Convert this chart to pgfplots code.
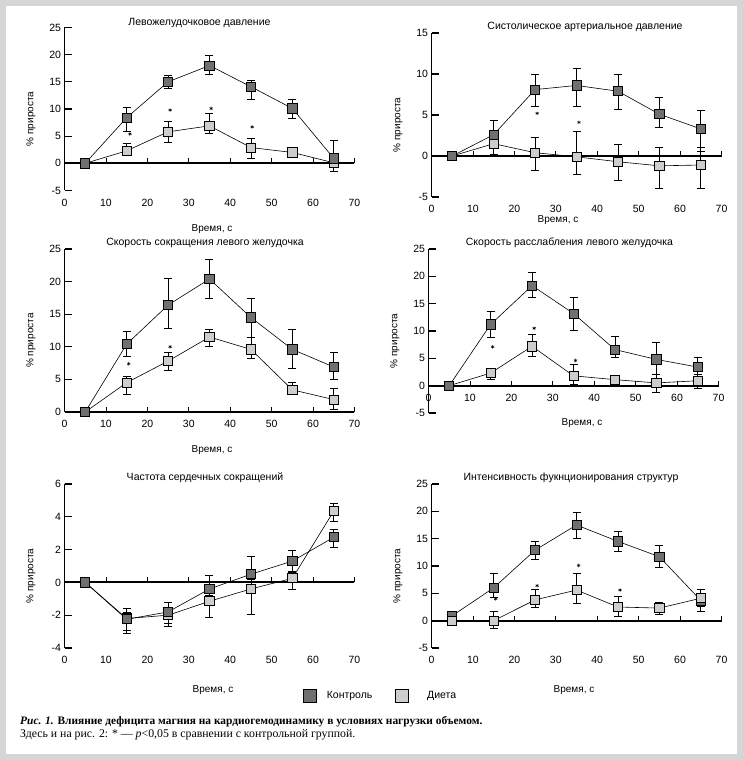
\documentclass[border=0pt]{standalone}
\usepackage{pgfplots}
\pgfplotsset{compat=1.18}
\usepackage{fontspec}
\setmainfont{Liberation Sans}
\newfontfamily\capfont{Liberation Serif}
\definecolor{ctrl}{HTML}{707070}
\definecolor{dietc}{HTML}{CDCDCD}
\definecolor{framegray}{HTML}{D6D6D6}
\newcommand{\pf}{\fontsize{10.5}{12}\selectfont}
\newcommand{\tf}{\fontsize{10.5}{12}\selectfont}
\pgfplotsset{
  panel/.style={
    scale only axis, width=290pt, height=164pt,
    anchor=south west,
    xmin=0, xmax=70, xtick={0,10,20,30,40,50,60,70},
    axis x line=bottom, axis y line=left,
    axis line style={-},
    x axis line style={draw=none},
    y axis line style={line width=1.5pt},
    xtick style={draw=none},
    ytick style={line width=1.2pt, black},
    tick align=inside, major tick length=7pt,
    xticklabel shift=5pt,
    /pgf/number format/assume math mode=true,
    tick label style={font=\pf},
    every axis title/.style={font=\tf, at={(axis description cs:0.5,1)}, anchor=base, yshift=3pt, inner sep=0pt},
    xlabel={Время, с}, ylabel={\% прироста},
    label style={font=\tf},
    every axis y label/.style={at={(axis description cs:0,0.5)}, xshift=-33.5pt, yshift=-10pt, rotate=90, anchor=center},
    every axis x label/.style={at={(axis description cs:0.5,0)}, anchor=center},
    clip=false,
  },
  ser/.style={black, line width=0.6pt, mark=square*, mark size=4.6pt,
    mark options={fill=#1, draw=black, line width=0.8pt},
    error bars/y dir=both, error bars/y explicit,
    error bars/error bar style={line width=0.8pt, black},
    error bars/error mark options={rotate=90, mark size=4pt, line width=0.8pt, black}},
  star/.style={only marks, mark=asterisk, mark size=1.8pt, mark options={line width=0.5pt, black}, forget plot},
}
\newcommand{\zeroline}{%
  \draw[line width=1.8pt] (axis cs:0,0) -- (axis cs:70,0);
  \pgfplotsinvokeforeach{10,20,30,40,50,60,70}{\draw[line width=0.8pt] (axis cs:##1,0) -- ++(0pt,5pt);}
}
\begin{document}
\begin{tikzpicture}
\useasboundingbox (0pt,0pt) rectangle (743pt,760pt);
\fill[framegray] (0pt,0pt) rectangle (743pt,760pt);
\fill[white] (6pt,6pt) rectangle (737pt,754pt);

% Panel 1
\begin{axis}[panel, at={(64.5pt,569.5pt)}, height=163pt, ymin=-5, ymax=25, ytick={-5,0,5,10,15,20,25},
  title={Левожелудочковое давление}, title style={xshift=-10pt, yshift=-1pt},
  xlabel style={yshift=-39pt, xshift=2.5pt}]
\zeroline
\addplot[ser=dietc] coordinates {(5,0) +- (0,0) (15,2.3) += (0,1.3) -= (0,0.8) (25,5.8) += (0,1.9) -= (0,1.9) (35,6.9) += (0,2.3) -= (0,1.4) (45,2.9) += (0,1.7) -= (0,2.0) (55,2.0) += (0,0.5) -= (0,0.8) (65,0.1) += (0,1.6) -= (0,1.6)};
\addplot[ser=ctrl] coordinates {(5,0) +- (0,0) (15,8.4) += (0,1.9) -= (0,2.6) (25,15.0) += (0,1.1) -= (0,1.2) (35,18.0) += (0,1.8) -= (0,1.7) (45,14.1) += (0,1.2) -= (0,2.4) (55,10.1) += (0,1.6) -= (0,1.8) (65,0.9) += (0,3.3) -= (0,0)};
\addplot[star] coordinates {(15.8,5.4) (25.5,9.8) (35.4,10.1) (45.3,6.7)};
\end{axis}

% Panel 2
\begin{axis}[panel, at={(431.5pt,563pt)}, ymin=-5, ymax=15, ytick={-5,0,5,10,15},
  title={Систолическое артериальное давление}, title style={xshift=8.5pt},
  xlabel style={yshift=-23pt, xshift=-18.5pt}]
\zeroline
\addplot[ser=dietc] coordinates {(5,0) +- (0,0) (15,1.5) += (0,0.5) -= (0,1.3) (25,0.4) += (0,1.9) -= (0,2.1) (35,-0.1) += (0,3.1) -= (0,2.1) (45,-0.7) += (0,2.1) -= (0,2.3) (55,-1.2) += (0,2.2) -= (0,2.8) (65,-1.1) += (0,2.1) -= (0,2.9)};
\addplot[ser=ctrl] coordinates {(5,0) +- (0,0) (15,2.6) += (0,1.7) -= (0,1.0) (25,8.1) += (0,1.9) -= (0,2.1) (35,8.6) += (0,2.1) -= (0,2.6) (45,7.9) += (0,2.1) -= (0,2.2) (55,5.1) += (0,2.1) -= (0,1.6) (65,3.3) += (0,2.3) -= (0,2.8)};
\addplot[star] coordinates {(25.5,5.2) (35.6,4.1)};
\end{axis}

% Panel 3
\begin{axis}[panel, at={(64.5pt,348pt)}, height=163pt, ymin=0, ymax=25, ytick={0,5,10,15,20,25},
  title={Скорость сокращения левого желудочка}, title style={xshift=-4.5pt},
  xlabel style={yshift=-38pt, xshift=2.5pt}]
\zeroline
\addplot[ser=dietc] coordinates {(5,0) +- (0,0) (15,4.5) += (0,1.0) -= (0,1.8) (25,7.8) += (0,1.4) -= (0,1.4) (35,11.5) += (0,1.2) -= (0,1.4) (45,9.6) += (0,1.9) -= (0,1.4) (55,3.4) += (0,1.1) -= (0,0.7) (65,1.9) += (0,1.7) -= (0,1.5)};
\addplot[ser=ctrl] coordinates {(5,0) +- (0,0) (15,10.4) += (0,2.0) -= (0,1.9) (25,16.4) += (0,4.1) -= (0,3.6) (35,20.4) += (0,3.0) -= (0,3.0) (45,14.5) += (0,2.9) -= (0,3.0) (55,9.6) += (0,3.1) -= (0,2.9) (65,6.9) += (0,2.3) -= (0,1.9)};
\addplot[star] coordinates {(15.5,7.4) (25.5,10.0)};
\end{axis}

% Panel 4
\begin{axis}[panel, at={(428.5pt,347pt)}, ymin=-5, ymax=25, ytick={-5,0,5,10,15,20,25},
  title={Скорость расслабления левого желудочка}, title style={xshift=-4pt},
  xticklabel style={yshift=27.3pt},
  xlabel style={yshift=-10pt, xshift=8.5pt}]
\zeroline
\addplot[ser=dietc] coordinates {(5,0) +- (0,0) (15,2.3) += (0,0.6) -= (0,1.2) (25,7.2) += (0,2.1) -= (0,1.9) (35,1.8) += (0,2.0) -= (0,1.6) (45,1.1) += (0,0.6) -= (0,0.8) (55,0.5) += (0,1.6) -= (0,1.8) (65,0.9) += (0,1.2) -= (0,1.4)};
\addplot[ser=ctrl] coordinates {(5,0) +- (0,0) (15,11.2) += (0,2.3) -= (0,2.4) (25,18.3) += (0,2.4) -= (0,2.1) (35,13.2) += (0,3.0) -= (0,3.1) (45,6.6) += (0,2.4) -= (0,1.5) (55,4.8) += (0,3.1) -= (0,2.7) (65,3.4) += (0,1.8) -= (0,1.4)};
\addplot[star] coordinates {(15.5,7.1) (25.5,10.5) (35.5,4.6)};
\end{axis}

% Panel 5
\begin{axis}[panel, at={(64.5pt,112pt)}, ymin=-4, ymax=6, ytick={-4,-2,0,2,4,6},
  title={Частота сердечных сокращений}, title style={xshift=-4.5pt},
  xlabel style={yshift=-42pt, xshift=3.5pt},
  legend style={at={(axis description cs:1.09,-0.293)}, anchor=center, draw=none, fill=none,
    legend columns=2, font=\tf, /tikz/every even column/.append style={column sep=21pt},
    nodes={inner sep=2pt}},
  legend cell align=left]
\addlegendimage{legend image code/.code={\draw[line width=0.8pt, fill=ctrl] (0pt,-6.5pt) rectangle (13pt,6.5pt);}}
\addlegendentry{\hspace{8pt}Контроль}
\addlegendimage{legend image code/.code={\draw[line width=0.8pt, fill=dietc] (0pt,-6.5pt) rectangle (13pt,6.5pt);}}
\addlegendentry{\hspace{16pt}Диета}
\zeroline
\addplot[ser=dietc, forget plot] coordinates {(5,0) +- (0,0) (15,-2.2) += (0,0.4) -= (0,0.9) (25,-2.0) += (0,0.3) -= (0,0.7) (35,-1.15) += (0,0.6) -= (0,1.0) (45,-0.4) += (0,0.6) -= (0,1.55) (55,0.25) += (0,0.4) -= (0,0.65) (65,4.35) += (0,0.45) -= (0,0.65)};
\addplot[ser=ctrl, forget plot] coordinates {(5,0) +- (0,0) (15,-2.25) += (0,0.65) -= (0,0.65) (25,-1.8) += (0,0.6) -= (0,0.7) (35,-0.4) += (0,0.8) -= (0,0.4) (45,0.5) += (0,1.1) -= (0,0.5) (55,1.3) += (0,0.65) -= (0,0.7) (65,2.75) += (0,0.5) -= (0,0.6)};
\end{axis}

% Panel 6
\begin{axis}[panel, at={(431.5pt,112pt)}, ymin=-5, ymax=25, ytick={-5,0,5,10,15,20,25},
  title={Интенсивность фукнционирования структур}, title style={xshift=-5.5pt},
  xlabel style={yshift=-42pt, xshift=-2.5pt}]
\zeroline
\addplot[ser=ctrl] coordinates {(5,0.9) +- (0,0) (15,6.0) += (0,2.7) -= (0,1.7) (25,12.9) += (0,1.6) -= (0,1.7) (35,17.5) += (0,2.3) -= (0,2.5) (45,14.5) += (0,1.9) -= (0,1.9) (55,11.7) += (0,2.1) -= (0,1.9) (65,3.7) += (0,1.0) -= (0,2.0)};
\addplot[ser=dietc] coordinates {(5,0) +- (0,0) (15,0.0) += (0,1.7) -= (0,1.5) (25,3.8) += (0,2.0) -= (0,1.3) (35,5.6) += (0,3.0) -= (0,2.4) (45,2.5) += (0,2.0) -= (0,1.8) (55,2.3) += (0,1.1) -= (0,1.2) (65,4.1) += (0,1.6) -= (0,1.5)};
\addplot[star] coordinates {(15.5,4.0) (25.5,6.4) (35.5,10.1) (45.5,5.6)};
\end{axis}

% Caption
\node[anchor=base west, inner sep=0pt, font=\capfont\fontsize{11.4}{13}\selectfont] at (20pt,35pt)
  {\textbf{\textit{Рис. 1.}} \textbf{Влияние дефицита магния на кардиогемодинамику в условиях нагрузки объемом.}};
\node[anchor=base west, inner sep=0pt, font=\capfont\fontsize{11.8}{13}\selectfont] at (20pt,23pt)
  {Здесь и на рис. 2: * — \textit{p}<0,05 в сравнении с контрольной группой.};
\end{tikzpicture}
\end{document}
